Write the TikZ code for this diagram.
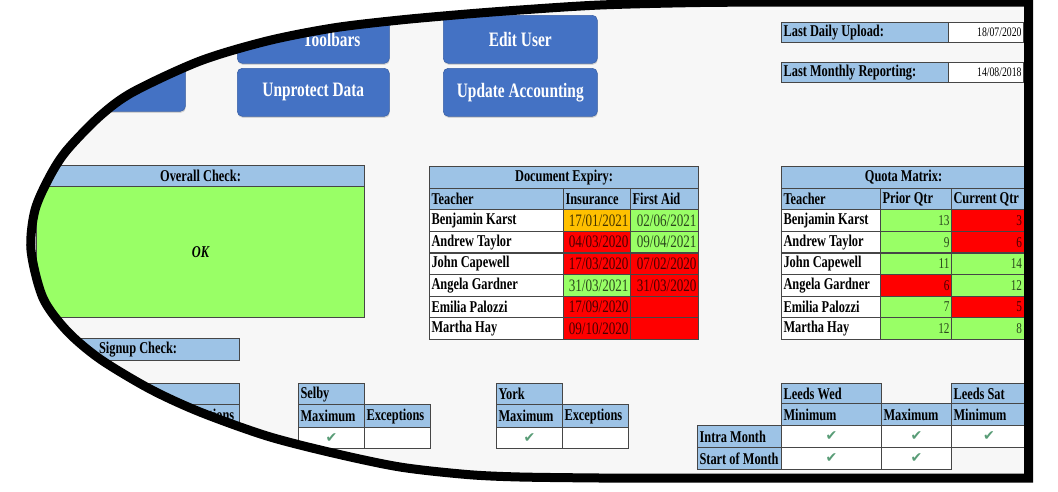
\documentclass[tikz,border=0pt]{standalone}
\usepackage{fontspec}
\setmainfont{Liberation Serif}[FakeStretch=0.75]
\newfontfamily\tickfont{DejaVu Sans}
\usepackage{tikz}
\usetikzlibrary{positioning, calc, shadows}

\newcommand{\okmark}{{\tickfont\fontsize{14}{15}\selectfont\color{tickgreen}✔}}

\begin{document}
\begin{tikzpicture}[x=1pt, y=-1pt, >=latex]
        % [sheet colours]
        \definecolor{sheetgray}{RGB}{247,247,247}
        \definecolor{btnblue}{RGB}{68,114,196}
        \definecolor{hdrblue}{RGB}{157,195,230}
        \definecolor{okgreen}{RGB}{153,255,102}
        \definecolor{badred}{RGB}{255,0,0}
        \definecolor{warnorange}{RGB}{255,192,0}
        \definecolor{gridgray}{RGB}{70,70,70}
        \definecolor{tickgreen}{RGB}{88,156,118}

        % common styles
        \tikzset{
            colw/.style={minimum width=#1, text width=#1-4pt},
            cell/.style={draw=gridgray, line width=1.1pt, anchor=north west, inner xsep=2pt, inner ysep=0pt,
                minimum height=21.6pt, font=\bfseries\fontsize{16.5}{17}\selectfont},
            hdr/.style={cell, fill=hdrblue, align=flush left},
            headline/.style={cell, fill=hdrblue, align=flush center},
            namecell/.style={cell, fill=white, align=flush left},
            valcell/.style={cell, align=flush right, font=\fontsize{17.5}{18}\selectfont},
            qtycell/.style={valcell, font=\fontsize{15}{16}\selectfont},
            tickcell/.style={cell, fill=white, align=flush center, minimum height=22pt},
            btn/.style={rounded corners=5pt, fill=btnblue, draw=btnblue!85!black, line width=0.6pt,
                anchor=north west, minimum width=#1, minimum height=48pt, inner sep=0pt, text=white,
                font=\bfseries\fontsize{20.5}{21}\selectfont,
                drop shadow={opacity=0.3, shadow xshift=0.5pt, shadow yshift=-1.5pt}},
            btntext/.style={text=white, inner sep=0pt, font=\bfseries\fontsize{20.5}{21}\selectfont},
            lens/.style={draw=black, line width=9pt}
        }

        % outline of the black lens frame (used for clip and stroke)
        \def\lensoutline{(1028.5,478) -- plot[smooth] coordinates {(600,478) (520,477) (467,474.5) (400,467)
            (333,453) (267,436) (200,412) (150,389) (100,359) (67,331) (43,298) (31,250) (35,210)
            (50,176) (67,150) (100,116) (133,92) (200,61) (267,41) (333,28) (400,20) (467,14)
            (520,10) (600,5) (700,2.5) (800,2)} -- (1028.5,2) -- cycle}

        \useasboundingbox (0,0) rectangle (1058,491);
        \fill[white] (0,0) rectangle (1058,491);

        \begin{scope}
            \clip \lensoutline;
            \fill[sheetgray] (0,0) rectangle (1058,491);

            % --- Buttons ---
            \node[btn=155, minimum height=45pt] (btn-hidden) at (30,66) {};
            \node[btn=152] (btn-bars) at (237,15) {};
            \node[btntext, anchor=east] (bars-text) at ([xshift=-29pt]btn-bars.east) {Toolbars};
            \node[btn=152] (btn-unprot) at (237,68) {Unprotect Data};
            \node[btn=154] (btn-edit) at (443,15) {Edit User};
            \node[btn=154] (btn-update) at (443,68) {Update Accounting};

            % --- Last upload / reporting ---
            \node[hdr, colw=167, minimum height=20pt] (daily-lbl) at (781,22) {Last Daily Upload:};
            \node[valcell, fill=white, colw=75, minimum height=20pt, font=\fontsize{13}{14}\selectfont]
                (daily-val) at (948,22) {18/07/2020};
            \node[hdr, colw=167, minimum height=20pt] (month-lbl) at (781,62) {Last Monthly Reporting:};
            \node[valcell, fill=white, colw=75, minimum height=20pt, font=\fontsize{13}{14}\selectfont]
                (month-val) at (948,62) {14/08/2018};

            % --- Overall Check ---
            \node[headline, colw=328, minimum height=21pt] (oc-title) at (36,165) {Overall Check:};
            \node[cell, fill=okgreen, colw=328, minimum height=131pt, align=flush center,
                font=\bfseries\itshape\fontsize{16.5}{17}\selectfont] (oc-ok) at (36,186) {OK};

            % --- Document Expiry ---
            \begin{scope}[shift={(429,166)}]
                \node[headline, colw=269] (de-title) at (0,0) {Document Expiry:};
                \node[hdr, colw=134] (de-teacher) at (0,21.6) {Teacher};
                \node[hdr, colw=67] (de-ins) at (134,21.6) {Insurance};
                \node[hdr, colw=68] (de-fa) at (201,21.6) {First Aid};
                \foreach \who/\ins/\insc/\fa/\fac [count=\r from 2] in {
                    Benjamin Karst/{17/01/2021}/warnorange/{02/06/2021}/okgreen,
                    Andrew Taylor/{04/03/2020}/badred/{09/04/2021}/okgreen,
                    John Capewell/{17/03/2020}/badred/{07/02/2020}/badred,
                    Angela Gardner/{31/03/2021}/okgreen/{31/03/2020}/badred,
                    Emilia Palozzi/{17/09/2020}/badred/{}/badred,
                    Martha Hay/{09/10/2020}/badred/{}/badred} {
                    \node[namecell, colw=134] (de-name-\r) at (0,21.6*\r) {\who};
                    \node[valcell, colw=67, fill=\insc, text=\insc!28!black] (de-ins-\r) at (134,21.6*\r) {\ins};
                    \node[valcell, colw=68, fill=\fac, text=\fac!28!black] (de-fa-\r) at (201,21.6*\r) {\fa};
                }
            \end{scope}

            % --- Quota Matrix ---
            \begin{scope}[shift={(781,166)}]
                \node[headline, colw=244] (qm-title) at (0,0) {Quota Matrix:};
                \node[hdr, colw=99] (qm-teacher) at (0,21.6) {Teacher};
                \node[hdr, colw=71] (qm-prior) at (99,21.6) {Prior Qtr};
                \node[hdr, colw=74] (qm-cur) at (170,21.6) {Current Qtr};
                \foreach \who/\prior/\pc/\cur/\cc [count=\r from 2] in {
                    Benjamin Karst/13/okgreen/3/badred,
                    Andrew Taylor/9/okgreen/6/badred,
                    John Capewell/11/okgreen/14/okgreen,
                    Angela Gardner/6/badred/12/okgreen,
                    Emilia Palozzi/7/okgreen/5/badred,
                    Martha Hay/12/okgreen/8/okgreen} {
                    \node[namecell, colw=99] (qm-name-\r) at (0,21.6*\r) {\who};
                    \node[qtycell, colw=71, fill=\pc, text=\pc!28!black] (qm-prior-\r) at (99,21.6*\r) {\prior};
                    \node[qtycell, colw=72.5, fill=\cc, text=\cc!28!black] (qm-cur-\r) at (170,21.6*\r) {\cur};
                }
            \end{scope}

            % --- Signup Check ---
            \node[headline, colw=203, minimum height=22pt] (su-title) at (36,338) {Signup Check:};

            % first site, mostly under the frame
            \node[hdr, colw=203, minimum height=21pt] (cen-title) at (36,383) {};
            \node[anchor=east, inner sep=0pt, font=\bfseries\fontsize{16.5}{17}\selectfont] (cen-name)
                at (158,393.5) {al};
            \node[hdr, colw=138, minimum height=23pt] (cen-max) at (36,404) {};
            \node[hdr, colw=65, minimum height=23pt] (cen-exc) at (174,404) {Exceptions};
            \node[cell, fill=white, colw=138, minimum height=21pt] (cen-max-v) at (36,427) {};
            \node[cell, fill=white, colw=65, minimum height=21pt] (cen-exc-v) at (174,427) {};

            % Selby and York
            \foreach \site/\sx in {Selby/298, York/496} {
                \node[hdr, colw=66, minimum height=21pt] (\site-title) at (\sx,383) {\site};
                \node[hdr, colw=66, minimum height=23pt] (\site-max) at (\sx,404) {Maximum};
                \node[hdr, colw=66, minimum height=23pt] (\site-exc) at (\sx+66,404) {Exceptions};
                \node[tickcell, colw=66, minimum height=21pt] (\site-max-v) at (\sx,427) {\okmark};
                \node[cell, fill=white, colw=66, minimum height=21pt] (\site-exc-v) at (\sx+66,427) {};
            }

            % Leeds
            \node[hdr, colw=100, minimum height=20pt] (wed-title) at (781,383) {Leeds Wed};
            \node[hdr, colw=75, minimum height=20pt] (sat-title) at (951,383) {Leeds Sat};
            \node[hdr, colw=100, minimum height=22pt] (wed-min) at (781,403) {Minimum};
            \node[hdr, colw=70, minimum height=22pt] (wed-max) at (881,403) {Maximum};
            \node[hdr, colw=75, minimum height=22pt] (sat-min) at (951,403) {Minimum};
            \node[hdr, colw=84, text width=82pt, minimum height=22pt] (intra) at (697,425) {Intra Month};
            \node[hdr, colw=84, text width=82pt, minimum height=22pt] (start) at (697,447) {Start of Month};
            \node[tickcell, colw=100] (intra-wmin) at (781,425) {\okmark};
            \node[tickcell, colw=70] (intra-wmax) at (881,425) {\okmark};
            \node[tickcell, colw=75] (intra-smin) at (951,425) {\okmark};
            \node[tickcell, colw=100] (start-wmin) at (781,447) {\okmark};
            \node[tickcell, colw=70] (start-wmax) at (881,447) {\okmark};
        \end{scope}

        % black lens frame on top
        \draw[lens] \lensoutline;
\end{tikzpicture}
\end{document}
